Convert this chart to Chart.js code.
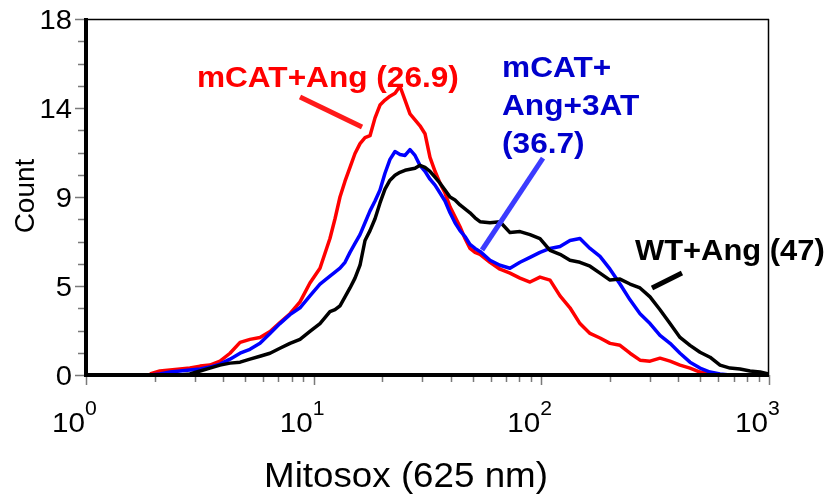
<!DOCTYPE html>
<html>
<head>
<meta charset="utf-8">
<script src="https://cdn.jsdelivr.net/npm/chart.js@4"></script>
<style>
html,body{margin:0;padding:0;background:#fff;}
canvas{display:block;}
</style>
</head>
<body>
<canvas id="c" width="834" height="497"></canvas>
<script>
// ---- data ----
const mitosox = [1.91,2.11,2.34,2.59,2.86,3.17,3.50,3.88,4.29,4.75,5.25,5.81,6.43,7.11,7.87,8.71,9.63,10.66,11.79,
  12.41,13.05,13.73,14.44,15.19,15.98,16.81,17.68,18.60,19.56,20.57,21.64,22.77,23.94,25.19,26.49,27.87,29.31,30.83,32.43,34.12,35.89,37.75,39.71,41.77,43.93,46.21,48.61,51.13,53.78,
  59.51,65.84,72.84,80.60,89.18,98.65,109.2,120.8,133.6,147.8,163.6,181.0,200.3,221.6,245.2,271.3,300.2,332.1,367.5,406.6,449.8,497.7,550.7,609.3,674.3,746.0,825.4,913.3,1000];

const mcatAng = [0.05,0.2,0.25,0.3,0.35,0.45,0.5,0.7,1.1,1.65,1.8,1.9,2.2,2.65,3.1,3.7,4.65,5.4,6.9,
  7.9,9.0,9.8,10.5,11.2,11.7,12.0,12.1,13.0,13.65,13.9,14.1,14.25,14.6,13.9,13.2,12.9,12.6,12.2,11.0,10.3,9.7,9.2,8.5,8.0,7.5,6.9,6.4,6.2,6.1,
  5.7,5.35,5.15,4.9,4.7,4.95,4.8,4.0,3.4,2.6,2.1,1.87,1.6,1.5,1.1,0.75,0.7,0.85,0.7,0.5,0.35,0.15,0.05,0,0,0,0,0,0];

const mcatAng3AT = [0,0.05,0.15,0.2,0.25,0.3,0.4,0.55,0.8,1.1,1.3,1.6,2.1,2.6,3.05,3.4,4.0,4.6,5.0,
  5.2,5.4,5.7,6.2,6.65,7.1,7.7,8.3,8.8,9.35,10.2,10.9,11.3,11.15,11.1,11.4,11.1,10.6,10.3,9.9,9.6,9.2,8.8,8.2,7.7,7.3,7.0,6.6,6.4,6.25,
  5.8,5.55,5.4,5.7,5.95,6.2,6.4,6.5,6.8,6.9,6.4,6.0,5.35,4.6,3.8,3.1,2.6,2.0,1.6,1.1,0.65,0.35,0.15,0.05,0,0,0,0,0];

const wtAng = [0,0,0,0,0.05,0.2,0.35,0.5,0.6,0.65,0.8,0.95,1.1,1.35,1.6,1.8,2.2,2.6,3.2,
  3.3,3.5,3.95,4.4,4.9,5.55,6.8,7.3,7.9,8.7,9.4,9.85,10.1,10.25,10.35,10.4,10.45,10.6,10.5,10.3,10.0,9.7,9.35,9.0,8.85,8.6,8.4,8.2,7.95,7.75,
  7.7,7.75,7.2,7.25,7.1,6.9,6.3,6.1,5.8,5.7,5.5,5.15,4.8,4.85,4.6,4.4,3.95,3.3,2.6,1.9,1.5,1.15,0.9,0.5,0.35,0.3,0.2,0.15,0.05];

const yTicks = [0, 4.5, 9, 13.5, 18];
const yTickLabels = ['0', '5', '9', '14', '18'];
const yMinorStep = 1.125;
const xTicks = [1, 10, 100, 1000];
const xTickExponents = ['0', '1', '2', '3'];

const xTitle = 'Mitosox (625 nm)';
const yTitle = 'Count';

// annotation anchors in data coordinates
const labelRed = { lines: ['mCAT+Ang (26.9)'], x: 3.07, y: 14.56 };
const labelBlue = { lines: ['mCAT+', 'Ang+3AT', '(36.7)'], x: 67.2, y: 15.07 };
const labelBlack = { lines: ['WT+Ang (47)'], x: 257.9, y: 5.81 };
const pointerRed = [[8.71, 14.05], [16.31, 12.54]];
const pointerBlue = [[101.7, 10.97], [54.9, 6.32]];
const pointerBlack = [[414.7, 5.16], [306.3, 4.40]];

// ---- drawing ----
const FONT = "'Liberation Sans', Arial, Helvetica, sans-serif";

function pts(ys) { return mitosox.map((x, i) => ({ x: x, y: ys[i] })); }

function drawText(ctx, s, px, py, font, color, align, sx) {
  ctx.save();
  ctx.font = font;
  ctx.fillStyle = color;
  ctx.textAlign = align;
  ctx.textBaseline = 'alphabetic';
  ctx.translate(px, py);
  ctx.scale(sx, 1);
  ctx.fillText(s, 0, 0);
  ctx.restore();
}

const framePlugin = {
  id: 'frame',
  afterDraw(chart) {
    const ctx = chart.ctx;
    const a = chart.chartArea;
    const xs = chart.scales.x, ys = chart.scales.y;
    ctx.save();

    // ticks (grey)
    ctx.strokeStyle = '#7a7a7a';
    ctx.lineWidth = 1.5;
    ctx.beginPath();
    for (let v = 0; v <= 18.0001; v += yMinorStep) {
      const py = Math.round(ys.getPixelForValue(v)) + 0.5;
      const major = yTicks.some(t => Math.abs(t - v) < 1e-6);
      ctx.moveTo(a.left - (major ? 11 : 8), py);
      ctx.lineTo(a.left, py);
    }
    for (let d = 0; d < 3; d++) {
      for (let k = 1; k <= 10; k++) {
        const v = k * Math.pow(10, d);
        const px = Math.round(xs.getPixelForValue(v)) + 0.5;
        const major = (k === 1 || k === 10);
        ctx.moveTo(px, a.bottom);
        ctx.lineTo(px, a.bottom + (major ? 10 : 7));
      }
    }
    ctx.stroke();

    // frame
    ctx.strokeStyle = '#000';
    ctx.lineWidth = 1.5;
    ctx.beginPath();
    ctx.moveTo(a.left, a.top + 0.5); ctx.lineTo(a.right, a.top + 0.5);
    ctx.moveTo(a.right - 0.5, a.top); ctx.lineTo(a.right - 0.5, a.bottom);
    ctx.stroke();
    ctx.lineWidth = 4;
    ctx.beginPath();
    ctx.moveTo(a.left, a.top - 1); ctx.lineTo(a.left, a.bottom + 2);
    ctx.moveTo(a.left - 2, a.bottom); ctx.lineTo(a.right, a.bottom);
    ctx.stroke();

    // y tick labels
    yTicks.forEach((t, i) => {
      const py = ys.getPixelForValue(t);
      drawText(ctx, yTickLabels[i], a.left - 14, py + 10, '27px ' + FONT, '#000', 'right', 1.08);
    });
    // x tick labels 10^n
    xTicks.forEach((t, i) => {
      const px = xs.getPixelForValue(t);
      drawText(ctx, '10', px - 1, a.bottom + 57, '28px ' + FONT, '#000', 'right', 1.06);
      drawText(ctx, xTickExponents[i], px - 1, a.bottom + 40, '20px ' + FONT, '#000', 'left', 1.06);
    });

    // axis titles
    drawText(ctx, xTitle, 406, 487, '35px ' + FONT, '#000', 'center', 1.05);
    ctx.save();
    ctx.translate(34, 196);
    ctx.rotate(-Math.PI / 2);
    drawText(ctx, yTitle, 0, 0, '28px ' + FONT, '#000', 'center', 1.0);
    ctx.restore();

    // pointer lines
    function pointer(p, color) {
      ctx.strokeStyle = color;
      ctx.lineWidth = 5;
      ctx.lineCap = 'butt';
      ctx.beginPath();
      ctx.moveTo(xs.getPixelForValue(p[0][0]), ys.getPixelForValue(p[0][1]));
      ctx.lineTo(xs.getPixelForValue(p[1][0]), ys.getPixelForValue(p[1][1]));
      ctx.stroke();
    }
    pointer(pointerRed, '#ff1a1a');
    pointer(pointerBlue, '#3b3bff');
    pointer(pointerBlack, '#000');

    // annotation labels
    function label(L, color, size, sx, lh) {
      const px = xs.getPixelForValue(L.x);
      const py = ys.getPixelForValue(L.y);
      L.lines.forEach((s, i) => {
        drawText(ctx, s, px, py + i * lh, 'bold ' + size + 'px ' + FONT, color, 'left', sx);
      });
    }
    label(labelRed, '#ff0000', 29, 1.09, 38);
    label(labelBlue, '#0000cc', 29, 1.09, 38);
    label(labelBlack, '#000', 30, 1.03, 38);

    ctx.restore();
  }
};

new Chart(document.getElementById('c'), {
  type: 'line',
  data: {
    datasets: [
      { label: 'WT+Ang', data: pts(wtAng), borderColor: '#000000', borderWidth: 3.5, order: 1 },
      { label: 'mCAT+Ang+3AT', data: pts(mcatAng3AT), borderColor: '#0000ff', borderWidth: 3.5, order: 2 },
      { label: 'mCAT+Ang', data: pts(mcatAng), borderColor: '#ff0000', borderWidth: 3.5, order: 3 }
    ]
  },
  options: {
    responsive: false,
    animation: false,
    devicePixelRatio: 1,
    elements: {
      line: { borderWidth: 3.5, tension: 0, fill: false, borderJoinStyle: 'round' },
      point: { radius: 0, hoverRadius: 0 }
    },
    layout: { padding: { top: 19, right: 65, left: 0, bottom: 0 } },
    plugins: { legend: { display: false }, tooltip: { enabled: false } },
    scales: {
      x: {
        type: 'logarithmic', min: 1, max: 1000,
        ticks: { display: false }, grid: { display: false }, border: { display: false },
        afterFit(s) { s.height = 122; }
      },
      y: {
        type: 'linear', min: 0, max: 18,
        ticks: { display: false }, grid: { display: false }, border: { display: false },
        afterFit(s) { s.width = 86; }
      }
    }
  },
  plugins: [framePlugin]
});
</script>
</body>
</html>
